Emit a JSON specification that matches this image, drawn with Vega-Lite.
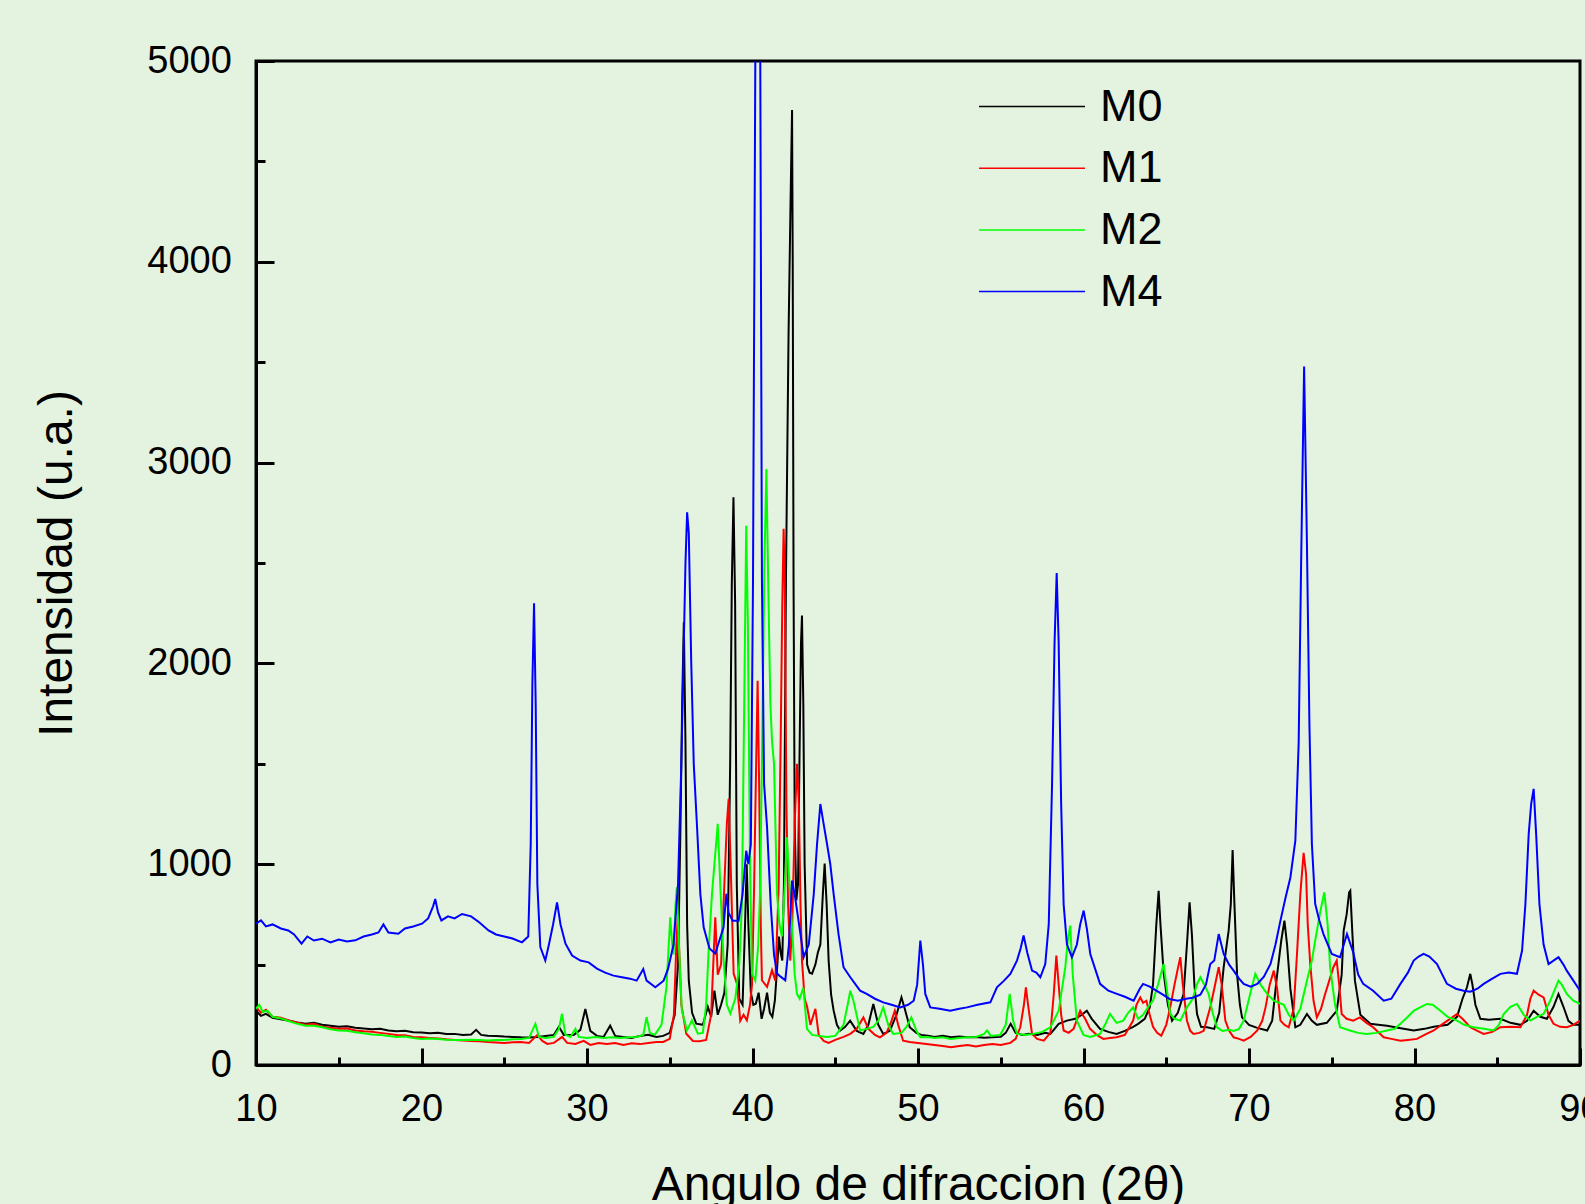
{
"$schema": "https://vega.github.io/schema/vega-lite/v6.json",
"width": 1324, "height": 1004,
"autosize": {"type": "none"},
"padding": {"left": 256, "top": 61, "right": 5, "bottom": 139},
"background": "#E4F2E0",
"config": {"view": {"stroke": "black", "strokeWidth": 3}, "font": "Liberation Sans"},
"data": {"values": [
{"s":"M0","x":10,"y":270},{"s":"M0","x":10.3,"y":245},{"s":"M0","x":10.6,"y":255},{"s":"M0","x":11,"y":235},{"s":"M0","x":11.5,"y":228},{"s":"M0","x":12,"y":220},{"s":"M0","x":12.5,"y":212},{"s":"M0","x":13,"y":205},{"s":"M0","x":13.5,"y":210},{"s":"M0","x":14,"y":200},{"s":"M0","x":14.5,"y":195},{"s":"M0","x":15,"y":190},{"s":"M0","x":15.5,"y":193},{"s":"M0","x":16,"y":186},{"s":"M0","x":16.5,"y":182},{"s":"M0","x":17,"y":178},{"s":"M0","x":17.5,"y":180},{"s":"M0","x":18,"y":172},{"s":"M0","x":18.5,"y":168},{"s":"M0","x":19,"y":170},{"s":"M0","x":19.5,"y":163},{"s":"M0","x":20,"y":162},{"s":"M0","x":20.5,"y":158},{"s":"M0","x":21,"y":160},{"s":"M0","x":21.5,"y":155},{"s":"M0","x":22,"y":155},{"s":"M0","x":22.5,"y":150},{"s":"M0","x":23,"y":152},{"s":"M0","x":23.3,"y":175},{"s":"M0","x":23.6,"y":150},{"s":"M0","x":24,"y":146},{"s":"M0","x":24.5,"y":145},{"s":"M0","x":25,"y":142},{"s":"M0","x":25.5,"y":140},{"s":"M0","x":26,"y":138},{"s":"M0","x":26.5,"y":137},{"s":"M0","x":27,"y":140},{"s":"M0","x":27.5,"y":145},{"s":"M0","x":28,"y":150},{"s":"M0","x":28.3,"y":190},{"s":"M0","x":28.6,"y":150},{"s":"M0","x":29.2,"y":150},{"s":"M0","x":29.6,"y":175},{"s":"M0","x":29.9,"y":279},{"s":"M0","x":30.2,"y":170},{"s":"M0","x":30.6,"y":145},{"s":"M0","x":31,"y":140},{"s":"M0","x":31.4,"y":196},{"s":"M0","x":31.7,"y":145},{"s":"M0","x":32.2,"y":140},{"s":"M0","x":32.7,"y":135},{"s":"M0","x":33.2,"y":145},{"s":"M0","x":33.7,"y":150},{"s":"M0","x":34.2,"y":140},{"s":"M0","x":34.6,"y":145},{"s":"M0","x":35,"y":160},{"s":"M0","x":35.3,"y":250},{"s":"M0","x":35.5,"y":500},{"s":"M0","x":35.65,"y":1200},{"s":"M0","x":35.75,"y":1800},{"s":"M0","x":35.85,"y":2205},{"s":"M0","x":35.95,"y":1600},{"s":"M0","x":36.05,"y":700},{"s":"M0","x":36.15,"y":420},{"s":"M0","x":36.35,"y":260},{"s":"M0","x":36.6,"y":206},{"s":"M0","x":37,"y":200},{"s":"M0","x":37.3,"y":290},{"s":"M0","x":37.5,"y":240},{"s":"M0","x":37.7,"y":370},{"s":"M0","x":37.9,"y":250},{"s":"M0","x":38.1,"y":300},{"s":"M0","x":38.3,"y":360},{"s":"M0","x":38.5,"y":600},{"s":"M0","x":38.65,"y":1500},{"s":"M0","x":38.75,"y":2400},{"s":"M0","x":38.85,"y":2827},{"s":"M0","x":38.95,"y":2300},{"s":"M0","x":39.05,"y":900},{"s":"M0","x":39.2,"y":330},{"s":"M0","x":39.4,"y":300},{"s":"M0","x":39.55,"y":700},{"s":"M0","x":39.65,"y":1000},{"s":"M0","x":39.75,"y":700},{"s":"M0","x":39.9,"y":360},{"s":"M0","x":40.05,"y":300},{"s":"M0","x":40.2,"y":305},{"s":"M0","x":40.37,"y":360},{"s":"M0","x":40.55,"y":230},{"s":"M0","x":40.7,"y":280},{"s":"M0","x":40.88,"y":360},{"s":"M0","x":41.05,"y":260},{"s":"M0","x":41.2,"y":240},{"s":"M0","x":41.35,"y":320},{"s":"M0","x":41.5,"y":500},{"s":"M0","x":41.6,"y":640},{"s":"M0","x":41.7,"y":560},{"s":"M0","x":41.8,"y":520},{"s":"M0","x":41.9,"y":900},{"s":"M0","x":42.02,"y":2412},{"s":"M0","x":42.18,"y":3650},{"s":"M0","x":42.3,"y":4300},{"s":"M0","x":42.39,"y":4756},{"s":"M0","x":42.43,"y":4000},{"s":"M0","x":42.48,"y":2412},{"s":"M0","x":42.55,"y":1200},{"s":"M0","x":42.65,"y":820},{"s":"M0","x":42.75,"y":900},{"s":"M0","x":42.85,"y":1600},{"s":"M0","x":42.93,"y":2100},{"s":"M0","x":42.99,"y":2238},{"s":"M0","x":43.07,"y":1800},{"s":"M0","x":43.15,"y":1000},{"s":"M0","x":43.3,"y":500},{"s":"M0","x":43.45,"y":460},{"s":"M0","x":43.6,"y":455},{"s":"M0","x":43.8,"y":500},{"s":"M0","x":43.95,"y":560},{"s":"M0","x":44.1,"y":600},{"s":"M0","x":44.25,"y":850},{"s":"M0","x":44.36,"y":1003},{"s":"M0","x":44.48,"y":800},{"s":"M0","x":44.6,"y":520},{"s":"M0","x":44.75,"y":350},{"s":"M0","x":44.9,"y":272},{"s":"M0","x":45.1,"y":200},{"s":"M0","x":45.3,"y":172},{"s":"M0","x":45.6,"y":190},{"s":"M0","x":45.9,"y":221},{"s":"M0","x":46.3,"y":170},{"s":"M0","x":46.7,"y":155},{"s":"M0","x":47,"y":200},{"s":"M0","x":47.3,"y":304},{"s":"M0","x":47.6,"y":200},{"s":"M0","x":47.9,"y":155},{"s":"M0","x":48.3,"y":170},{"s":"M0","x":48.7,"y":250},{"s":"M0","x":49,"y":337},{"s":"M0","x":49.2,"y":280},{"s":"M0","x":49.5,"y":188},{"s":"M0","x":49.9,"y":160},{"s":"M0","x":50.2,"y":150},{"s":"M0","x":50.6,"y":146},{"s":"M0","x":51,"y":140},{"s":"M0","x":51.5,"y":145},{"s":"M0","x":52,"y":138},{"s":"M0","x":52.5,"y":142},{"s":"M0","x":53,"y":138},{"s":"M0","x":53.5,"y":140},{"s":"M0","x":54,"y":136},{"s":"M0","x":54.5,"y":138},{"s":"M0","x":55,"y":140},{"s":"M0","x":55.3,"y":160},{"s":"M0","x":55.6,"y":205},{"s":"M0","x":55.9,"y":160},{"s":"M0","x":56.3,"y":150},{"s":"M0","x":56.7,"y":155},{"s":"M0","x":57.2,"y":150},{"s":"M0","x":57.7,"y":160},{"s":"M0","x":58,"y":155},{"s":"M0","x":58.5,"y":205},{"s":"M0","x":59,"y":221},{"s":"M0","x":59.5,"y":230},{"s":"M0","x":59.9,"y":250},{"s":"M0","x":60.2,"y":270},{"s":"M0","x":60.5,"y":230},{"s":"M0","x":61,"y":180},{"s":"M0","x":61.5,"y":165},{"s":"M0","x":62,"y":155},{"s":"M0","x":62.5,"y":170},{"s":"M0","x":63,"y":190},{"s":"M0","x":63.3,"y":205},{"s":"M0","x":63.7,"y":230},{"s":"M0","x":64,"y":287},{"s":"M0","x":64.2,"y":400},{"s":"M0","x":64.4,"y":700},{"s":"M0","x":64.54,"y":868},{"s":"M0","x":64.65,"y":700},{"s":"M0","x":64.84,"y":460},{"s":"M0","x":65.1,"y":300},{"s":"M0","x":65.35,"y":221},{"s":"M0","x":65.7,"y":260},{"s":"M0","x":66.05,"y":354},{"s":"M0","x":66.25,"y":600},{"s":"M0","x":66.41,"y":810},{"s":"M0","x":66.55,"y":650},{"s":"M0","x":66.7,"y":400},{"s":"M0","x":66.86,"y":254},{"s":"M0","x":67.1,"y":190},{"s":"M0","x":67.46,"y":188},{"s":"M0","x":67.9,"y":180},{"s":"M0","x":68.2,"y":260},{"s":"M0","x":68.47,"y":487},{"s":"M0","x":68.77,"y":669},{"s":"M0","x":68.9,"y":800},{"s":"M0","x":69.01,"y":1070},{"s":"M0","x":69.12,"y":800},{"s":"M0","x":69.28,"y":450},{"s":"M0","x":69.45,"y":300},{"s":"M0","x":69.58,"y":237},{"s":"M0","x":70,"y":200},{"s":"M0","x":70.5,"y":185},{"s":"M0","x":71.1,"y":172},{"s":"M0","x":71.4,"y":220},{"s":"M0","x":71.7,"y":450},{"s":"M0","x":71.95,"y":620},{"s":"M0","x":72.14,"y":719},{"s":"M0","x":72.3,"y":600},{"s":"M0","x":72.5,"y":380},{"s":"M0","x":72.8,"y":188},{"s":"M0","x":73.1,"y":200},{"s":"M0","x":73.5,"y":254},{"s":"M0","x":73.8,"y":220},{"s":"M0","x":74.1,"y":200},{"s":"M0","x":74.7,"y":210},{"s":"M0","x":75.3,"y":270},{"s":"M0","x":75.6,"y":450},{"s":"M0","x":75.72,"y":669},{"s":"M0","x":75.9,"y":750},{"s":"M0","x":76.05,"y":860},{"s":"M0","x":76.12,"y":868},{"s":"M0","x":76.25,"y":650},{"s":"M0","x":76.4,"y":420},{"s":"M0","x":76.73,"y":250},{"s":"M0","x":77.33,"y":205},{"s":"M0","x":77.8,"y":200},{"s":"M0","x":78.34,"y":195},{"s":"M0","x":79,"y":185},{"s":"M0","x":79.95,"y":172},{"s":"M0","x":80.6,"y":180},{"s":"M0","x":81.16,"y":190},{"s":"M0","x":82,"y":200},{"s":"M0","x":82.57,"y":240},{"s":"M0","x":82.9,"y":330},{"s":"M0","x":83.17,"y":387},{"s":"M0","x":83.37,"y":454},{"s":"M0","x":83.5,"y":400},{"s":"M0","x":83.68,"y":300},{"s":"M0","x":83.98,"y":230},{"s":"M0","x":84.5,"y":225},{"s":"M0","x":85.19,"y":230},{"s":"M0","x":85.8,"y":210},{"s":"M0","x":86.4,"y":200},{"s":"M0","x":86.8,"y":220},{"s":"M0","x":87.2,"y":270},{"s":"M0","x":87.6,"y":240},{"s":"M0","x":88,"y":230},{"s":"M0","x":88.4,"y":290},{"s":"M0","x":88.7,"y":354},{"s":"M0","x":89,"y":290},{"s":"M0","x":89.3,"y":220},{"s":"M0","x":89.6,"y":200},{"s":"M0","x":90,"y":200},
{"s":"M1","x":10,"y":290},{"s":"M1","x":10.3,"y":260},{"s":"M1","x":10.6,"y":275},{"s":"M1","x":11,"y":240},{"s":"M1","x":11.5,"y":235},{"s":"M1","x":12,"y":222},{"s":"M1","x":12.5,"y":210},{"s":"M1","x":13,"y":200},{"s":"M1","x":13.5,"y":205},{"s":"M1","x":14,"y":190},{"s":"M1","x":14.5,"y":185},{"s":"M1","x":15,"y":180},{"s":"M1","x":15.5,"y":182},{"s":"M1","x":16,"y":172},{"s":"M1","x":16.5,"y":168},{"s":"M1","x":17,"y":165},{"s":"M1","x":17.5,"y":160},{"s":"M1","x":18,"y":155},{"s":"M1","x":18.5,"y":150},{"s":"M1","x":19,"y":148},{"s":"M1","x":19.5,"y":140},{"s":"M1","x":20,"y":138},{"s":"M1","x":20.5,"y":135},{"s":"M1","x":21,"y":132},{"s":"M1","x":21.5,"y":128},{"s":"M1","x":22,"y":125},{"s":"M1","x":22.5,"y":122},{"s":"M1","x":23,"y":120},{"s":"M1","x":23.5,"y":118},{"s":"M1","x":24,"y":114},{"s":"M1","x":24.5,"y":112},{"s":"M1","x":25,"y":110},{"s":"M1","x":25.5,"y":113},{"s":"M1","x":26,"y":114},{"s":"M1","x":26.5,"y":110},{"s":"M1","x":27,"y":150},{"s":"M1","x":27.3,"y":120},{"s":"M1","x":27.6,"y":105},{"s":"M1","x":28,"y":110},{"s":"M1","x":28.5,"y":140},{"s":"M1","x":28.8,"y":110},{"s":"M1","x":29.3,"y":105},{"s":"M1","x":29.8,"y":120},{"s":"M1","x":30.2,"y":100},{"s":"M1","x":30.7,"y":110},{"s":"M1","x":31.2,"y":105},{"s":"M1","x":31.7,"y":110},{"s":"M1","x":32.2,"y":100},{"s":"M1","x":32.7,"y":108},{"s":"M1","x":33.2,"y":104},{"s":"M1","x":33.7,"y":110},{"s":"M1","x":34.2,"y":114},{"s":"M1","x":34.6,"y":115},{"s":"M1","x":35,"y":130},{"s":"M1","x":35.25,"y":250},{"s":"M1","x":35.4,"y":600},{"s":"M1","x":35.48,"y":730},{"s":"M1","x":35.56,"y":600},{"s":"M1","x":35.7,"y":300},{"s":"M1","x":36,"y":156},{"s":"M1","x":36.4,"y":120},{"s":"M1","x":36.8,"y":118},{"s":"M1","x":37.2,"y":125},{"s":"M1","x":37.5,"y":250},{"s":"M1","x":37.75,"y":735},{"s":"M1","x":37.9,"y":450},{"s":"M1","x":38.1,"y":500},{"s":"M1","x":38.3,"y":900},{"s":"M1","x":38.45,"y":1200},{"s":"M1","x":38.56,"y":1326},{"s":"M1","x":38.68,"y":1000},{"s":"M1","x":38.86,"y":455},{"s":"M1","x":39.06,"y":405},{"s":"M1","x":39.26,"y":220},{"s":"M1","x":39.46,"y":250},{"s":"M1","x":39.66,"y":223},{"s":"M1","x":39.85,"y":300},{"s":"M1","x":39.97,"y":400},{"s":"M1","x":40.1,"y":900},{"s":"M1","x":40.22,"y":1500},{"s":"M1","x":40.31,"y":1914},{"s":"M1","x":40.4,"y":1400},{"s":"M1","x":40.5,"y":700},{"s":"M1","x":40.57,"y":422},{"s":"M1","x":40.88,"y":389},{"s":"M1","x":41.18,"y":472},{"s":"M1","x":41.38,"y":420},{"s":"M1","x":41.58,"y":885},{"s":"M1","x":41.7,"y":1600},{"s":"M1","x":41.8,"y":2300},{"s":"M1","x":41.88,"y":2670},{"s":"M1","x":41.95,"y":2400},{"s":"M1","x":42.05,"y":1300},{"s":"M1","x":42.15,"y":800},{"s":"M1","x":42.28,"y":520},{"s":"M1","x":42.4,"y":700},{"s":"M1","x":42.55,"y":1200},{"s":"M1","x":42.69,"y":1500},{"s":"M1","x":42.8,"y":1300},{"s":"M1","x":42.9,"y":800},{"s":"M1","x":42.99,"y":520},{"s":"M1","x":43.15,"y":330},{"s":"M1","x":43.3,"y":290},{"s":"M1","x":43.5,"y":200},{"s":"M1","x":43.8,"y":280},{"s":"M1","x":44,"y":150},{"s":"M1","x":44.3,"y":120},{"s":"M1","x":44.6,"y":110},{"s":"M1","x":45,"y":125},{"s":"M1","x":45.5,"y":140},{"s":"M1","x":45.91,"y":155},{"s":"M1","x":46.3,"y":180},{"s":"M1","x":46.7,"y":237},{"s":"M1","x":47,"y":180},{"s":"M1","x":47.4,"y":150},{"s":"M1","x":47.7,"y":138},{"s":"M1","x":48.1,"y":160},{"s":"M1","x":48.4,"y":220},{"s":"M1","x":48.6,"y":270},{"s":"M1","x":48.8,"y":200},{"s":"M1","x":49.1,"y":121},{"s":"M1","x":49.5,"y":115},{"s":"M1","x":50,"y":110},{"s":"M1","x":50.5,"y":105},{"s":"M1","x":51,"y":100},{"s":"M1","x":51.5,"y":95},{"s":"M1","x":52,"y":88},{"s":"M1","x":52.5,"y":95},{"s":"M1","x":53,"y":100},{"s":"M1","x":53.5,"y":92},{"s":"M1","x":54,"y":100},{"s":"M1","x":54.5,"y":105},{"s":"M1","x":55,"y":100},{"s":"M1","x":55.58,"y":110},{"s":"M1","x":55.9,"y":130},{"s":"M1","x":56.18,"y":188},{"s":"M1","x":56.4,"y":300},{"s":"M1","x":56.52,"y":387},{"s":"M1","x":56.65,"y":300},{"s":"M1","x":56.89,"y":155},{"s":"M1","x":57.2,"y":130},{"s":"M1","x":57.6,"y":121},{"s":"M1","x":58,"y":160},{"s":"M1","x":58.2,"y":350},{"s":"M1","x":58.36,"y":545},{"s":"M1","x":58.5,"y":400},{"s":"M1","x":58.65,"y":250},{"s":"M1","x":58.8,"y":172},{"s":"M1","x":59.1,"y":160},{"s":"M1","x":59.4,"y":180},{"s":"M1","x":59.8,"y":270},{"s":"M1","x":60.1,"y":230},{"s":"M1","x":60.4,"y":180},{"s":"M1","x":60.8,"y":150},{"s":"M1","x":61.2,"y":130},{"s":"M1","x":61.6,"y":135},{"s":"M1","x":62,"y":138},{"s":"M1","x":62.5,"y":150},{"s":"M1","x":63,"y":221},{"s":"M1","x":63.2,"y":300},{"s":"M1","x":63.43,"y":337},{"s":"M1","x":63.6,"y":310},{"s":"M1","x":63.8,"y":320},{"s":"M1","x":64,"y":250},{"s":"M1","x":64.2,"y":190},{"s":"M1","x":64.45,"y":160},{"s":"M1","x":64.7,"y":146},{"s":"M1","x":65,"y":200},{"s":"M1","x":65.24,"y":287},{"s":"M1","x":65.5,"y":400},{"s":"M1","x":65.7,"y":480},{"s":"M1","x":65.85,"y":537},{"s":"M1","x":66,"y":400},{"s":"M1","x":66.25,"y":221},{"s":"M1","x":66.45,"y":170},{"s":"M1","x":66.65,"y":155},{"s":"M1","x":67,"y":160},{"s":"M1","x":67.26,"y":170},{"s":"M1","x":67.66,"y":287},{"s":"M1","x":67.9,"y":380},{"s":"M1","x":68.17,"y":487},{"s":"M1","x":68.35,"y":400},{"s":"M1","x":68.57,"y":221},{"s":"M1","x":68.8,"y":170},{"s":"M1","x":69.07,"y":138},{"s":"M1","x":69.4,"y":130},{"s":"M1","x":69.68,"y":121},{"s":"M1","x":70.1,"y":140},{"s":"M1","x":70.5,"y":172},{"s":"M1","x":70.8,"y":220},{"s":"M1","x":71,"y":287},{"s":"M1","x":71.25,"y":400},{"s":"M1","x":71.5,"y":470},{"s":"M1","x":71.7,"y":380},{"s":"M1","x":71.9,"y":221},{"s":"M1","x":72.15,"y":200},{"s":"M1","x":72.4,"y":188},{"s":"M1","x":72.7,"y":280},{"s":"M1","x":72.9,"y":553},{"s":"M1","x":73.1,"y":850},{"s":"M1","x":73.3,"y":1057},{"s":"M1","x":73.45,"y":950},{"s":"M1","x":73.55,"y":700},{"s":"M1","x":73.7,"y":503},{"s":"M1","x":73.9,"y":320},{"s":"M1","x":74.1,"y":237},{"s":"M1","x":74.35,"y":280},{"s":"M1","x":74.6,"y":354},{"s":"M1","x":74.85,"y":420},{"s":"M1","x":75.1,"y":487},{"s":"M1","x":75.3,"y":520},{"s":"M1","x":75.45,"y":400},{"s":"M1","x":75.6,"y":254},{"s":"M1","x":75.9,"y":230},{"s":"M1","x":76.3,"y":221},{"s":"M1","x":76.7,"y":237},{"s":"M1","x":77.1,"y":210},{"s":"M1","x":77.5,"y":188},{"s":"M1","x":78.14,"y":138},{"s":"M1","x":78.6,"y":130},{"s":"M1","x":79.15,"y":121},{"s":"M1","x":79.6,"y":125},{"s":"M1","x":80.15,"y":130},{"s":"M1","x":80.6,"y":150},{"s":"M1","x":81.16,"y":172},{"s":"M1","x":81.8,"y":210},{"s":"M1","x":82.57,"y":254},{"s":"M1","x":82.9,"y":230},{"s":"M1","x":83.37,"y":188},{"s":"M1","x":83.8,"y":170},{"s":"M1","x":84.18,"y":155},{"s":"M1","x":84.7,"y":165},{"s":"M1","x":85.19,"y":188},{"s":"M1","x":85.8,"y":190},{"s":"M1","x":86.4,"y":188},{"s":"M1","x":86.8,"y":250},{"s":"M1","x":87,"y":330},{"s":"M1","x":87.2,"y":370},{"s":"M1","x":87.5,"y":350},{"s":"M1","x":87.8,"y":337},{"s":"M1","x":88.1,"y":250},{"s":"M1","x":88.4,"y":205},{"s":"M1","x":88.8,"y":190},{"s":"M1","x":89.2,"y":188},{"s":"M1","x":89.6,"y":200},{"s":"M1","x":90,"y":221},
{"s":"M2","x":10,"y":280},{"s":"M2","x":10.2,"y":300},{"s":"M2","x":10.4,"y":265},{"s":"M2","x":10.7,"y":270},{"s":"M2","x":11,"y":240},{"s":"M2","x":11.5,"y":232},{"s":"M2","x":12,"y":218},{"s":"M2","x":12.5,"y":205},{"s":"M2","x":13,"y":195},{"s":"M2","x":13.5,"y":195},{"s":"M2","x":14,"y":188},{"s":"M2","x":14.5,"y":178},{"s":"M2","x":15,"y":172},{"s":"M2","x":15.5,"y":170},{"s":"M2","x":16,"y":163},{"s":"M2","x":16.5,"y":158},{"s":"M2","x":17,"y":152},{"s":"M2","x":17.5,"y":150},{"s":"M2","x":18,"y":145},{"s":"M2","x":18.5,"y":140},{"s":"M2","x":19,"y":142},{"s":"M2","x":19.5,"y":135},{"s":"M2","x":20,"y":130},{"s":"M2","x":20.5,"y":132},{"s":"M2","x":21,"y":130},{"s":"M2","x":21.5,"y":126},{"s":"M2","x":22,"y":125},{"s":"M2","x":22.5,"y":124},{"s":"M2","x":23,"y":126},{"s":"M2","x":23.5,"y":124},{"s":"M2","x":24,"y":122},{"s":"M2","x":24.5,"y":125},{"s":"M2","x":25,"y":124},{"s":"M2","x":25.5,"y":128},{"s":"M2","x":26,"y":130},{"s":"M2","x":26.5,"y":135},{"s":"M2","x":26.88,"y":205},{"s":"M2","x":27.1,"y":140},{"s":"M2","x":27.5,"y":135},{"s":"M2","x":28,"y":140},{"s":"M2","x":28.3,"y":180},{"s":"M2","x":28.49,"y":255},{"s":"M2","x":28.7,"y":150},{"s":"M2","x":29,"y":140},{"s":"M2","x":29.3,"y":180},{"s":"M2","x":29.5,"y":140},{"s":"M2","x":30,"y":135},{"s":"M2","x":30.5,"y":140},{"s":"M2","x":31,"y":135},{"s":"M2","x":31.5,"y":138},{"s":"M2","x":32,"y":135},{"s":"M2","x":32.5,"y":138},{"s":"M2","x":33,"y":140},{"s":"M2","x":33.4,"y":150},{"s":"M2","x":33.6,"y":238},{"s":"M2","x":33.8,"y":160},{"s":"M2","x":34.1,"y":150},{"s":"M2","x":34.5,"y":200},{"s":"M2","x":34.8,"y":387},{"s":"M2","x":35.03,"y":735},{"s":"M2","x":35.15,"y":600},{"s":"M2","x":35.23,"y":550},{"s":"M2","x":35.35,"y":800},{"s":"M2","x":35.43,"y":885},{"s":"M2","x":35.55,"y":600},{"s":"M2","x":35.73,"y":272},{"s":"M2","x":36.04,"y":172},{"s":"M2","x":36.34,"y":222},{"s":"M2","x":36.7,"y":156},{"s":"M2","x":37,"y":160},{"s":"M2","x":37.2,"y":300},{"s":"M2","x":37.35,"y":570},{"s":"M2","x":37.55,"y":850},{"s":"M2","x":37.7,"y":1000},{"s":"M2","x":37.9,"y":1201},{"s":"M2","x":38.05,"y":900},{"s":"M2","x":38.25,"y":530},{"s":"M2","x":38.45,"y":300},{"s":"M2","x":38.66,"y":256},{"s":"M2","x":38.96,"y":330},{"s":"M2","x":39.2,"y":500},{"s":"M2","x":39.36,"y":800},{"s":"M2","x":39.5,"y":1800},{"s":"M2","x":39.62,"y":2686},{"s":"M2","x":39.72,"y":2200},{"s":"M2","x":39.85,"y":1000},{"s":"M2","x":39.97,"y":455},{"s":"M2","x":40.17,"y":420},{"s":"M2","x":40.35,"y":600},{"s":"M2","x":40.47,"y":900},{"s":"M2","x":40.6,"y":1700},{"s":"M2","x":40.72,"y":2500},{"s":"M2","x":40.84,"y":2968},{"s":"M2","x":40.95,"y":2400},{"s":"M2","x":41.08,"y":1800},{"s":"M2","x":41.18,"y":1614},{"s":"M2","x":41.3,"y":1500},{"s":"M2","x":41.48,"y":853},{"s":"M2","x":41.63,"y":700},{"s":"M2","x":41.78,"y":640},{"s":"M2","x":41.95,"y":900},{"s":"M2","x":42.08,"y":1134},{"s":"M2","x":42.2,"y":950},{"s":"M2","x":42.39,"y":686},{"s":"M2","x":42.55,"y":450},{"s":"M2","x":42.69,"y":353},{"s":"M2","x":42.85,"y":330},{"s":"M2","x":43.07,"y":385},{"s":"M2","x":43.29,"y":180},{"s":"M2","x":43.6,"y":150},{"s":"M2","x":44,"y":145},{"s":"M2","x":44.5,"y":140},{"s":"M2","x":45,"y":145},{"s":"M2","x":45.5,"y":200},{"s":"M2","x":45.75,"y":300},{"s":"M2","x":45.91,"y":370},{"s":"M2","x":46.1,"y":320},{"s":"M2","x":46.5,"y":172},{"s":"M2","x":46.9,"y":180},{"s":"M2","x":47.3,"y":190},{"s":"M2","x":47.6,"y":220},{"s":"M2","x":47.9,"y":287},{"s":"M2","x":48.2,"y":200},{"s":"M2","x":48.5,"y":155},{"s":"M2","x":49,"y":160},{"s":"M2","x":49.3,"y":190},{"s":"M2","x":49.6,"y":237},{"s":"M2","x":49.9,"y":170},{"s":"M2","x":50.14,"y":138},{"s":"M2","x":50.6,"y":140},{"s":"M2","x":51,"y":135},{"s":"M2","x":51.5,"y":138},{"s":"M2","x":51.95,"y":130},{"s":"M2","x":52.5,"y":135},{"s":"M2","x":53,"y":138},{"s":"M2","x":53.5,"y":140},{"s":"M2","x":54,"y":155},{"s":"M2","x":54.17,"y":172},{"s":"M2","x":54.4,"y":145},{"s":"M2","x":54.97,"y":150},{"s":"M2","x":55.3,"y":200},{"s":"M2","x":55.54,"y":354},{"s":"M2","x":55.75,"y":220},{"s":"M2","x":55.98,"y":155},{"s":"M2","x":56.5,"y":150},{"s":"M2","x":56.99,"y":155},{"s":"M2","x":57.5,"y":165},{"s":"M2","x":58,"y":188},{"s":"M2","x":58.5,"y":270},{"s":"M2","x":58.9,"y":487},{"s":"M2","x":59.05,"y":620},{"s":"M2","x":59.2,"y":694},{"s":"M2","x":59.35,"y":450},{"s":"M2","x":59.6,"y":221},{"s":"M2","x":60,"y":150},{"s":"M2","x":60.4,"y":140},{"s":"M2","x":61,"y":155},{"s":"M2","x":61.3,"y":200},{"s":"M2","x":61.6,"y":254},{"s":"M2","x":62,"y":210},{"s":"M2","x":62.4,"y":221},{"s":"M2","x":62.7,"y":260},{"s":"M2","x":63,"y":287},{"s":"M2","x":63.3,"y":230},{"s":"M2","x":63.6,"y":250},{"s":"M2","x":64,"y":300},{"s":"M2","x":64.2,"y":320},{"s":"M2","x":64.5,"y":400},{"s":"M2","x":64.84,"y":503},{"s":"M2","x":65,"y":400},{"s":"M2","x":65.24,"y":254},{"s":"M2","x":65.5,"y":230},{"s":"M2","x":65.85,"y":221},{"s":"M2","x":66.25,"y":287},{"s":"M2","x":66.6,"y":330},{"s":"M2","x":66.85,"y":400},{"s":"M2","x":67.06,"y":437},{"s":"M2","x":67.3,"y":400},{"s":"M2","x":67.56,"y":354},{"s":"M2","x":67.8,"y":260},{"s":"M2","x":68.06,"y":188},{"s":"M2","x":68.4,"y":170},{"s":"M2","x":68.8,"y":175},{"s":"M2","x":69.07,"y":170},{"s":"M2","x":69.4,"y":180},{"s":"M2","x":69.68,"y":221},{"s":"M2","x":70,"y":330},{"s":"M2","x":70.38,"y":454},{"s":"M2","x":70.7,"y":400},{"s":"M2","x":71.1,"y":354},{"s":"M2","x":71.5,"y":320},{"s":"M2","x":72.1,"y":300},{"s":"M2","x":72.4,"y":250},{"s":"M2","x":72.7,"y":221},{"s":"M2","x":73.1,"y":280},{"s":"M2","x":73.5,"y":420},{"s":"M2","x":73.8,"y":520},{"s":"M2","x":74,"y":620},{"s":"M2","x":74.3,"y":760},{"s":"M2","x":74.55,"y":860},{"s":"M2","x":74.75,"y":700},{"s":"M2","x":74.9,"y":487},{"s":"M2","x":75.2,"y":300},{"s":"M2","x":75.5,"y":188},{"s":"M2","x":76.1,"y":172},{"s":"M2","x":76.6,"y":160},{"s":"M2","x":77.1,"y":155},{"s":"M2","x":77.7,"y":160},{"s":"M2","x":78.34,"y":172},{"s":"M2","x":78.8,"y":180},{"s":"M2","x":79.15,"y":205},{"s":"M2","x":79.6,"y":240},{"s":"M2","x":79.95,"y":270},{"s":"M2","x":80.4,"y":290},{"s":"M2","x":80.76,"y":304},{"s":"M2","x":81.1,"y":300},{"s":"M2","x":81.56,"y":270},{"s":"M2","x":82,"y":240},{"s":"M2","x":82.57,"y":221},{"s":"M2","x":83,"y":200},{"s":"M2","x":83.57,"y":188},{"s":"M2","x":84.2,"y":180},{"s":"M2","x":84.78,"y":172},{"s":"M2","x":85.1,"y":200},{"s":"M2","x":85.39,"y":254},{"s":"M2","x":85.8,"y":290},{"s":"M2","x":86.19,"y":304},{"s":"M2","x":86.6,"y":250},{"s":"M2","x":87,"y":221},{"s":"M2","x":87.4,"y":240},{"s":"M2","x":87.8,"y":254},{"s":"M2","x":88.2,"y":320},{"s":"M2","x":88.5,"y":380},{"s":"M2","x":88.7,"y":420},{"s":"M2","x":88.9,"y":400},{"s":"M2","x":89.2,"y":354},{"s":"M2","x":89.6,"y":320},{"s":"M2","x":90,"y":304},
{"s":"M4","x":10,"y":704},{"s":"M4","x":10.3,"y":720},{"s":"M4","x":10.6,"y":690},{"s":"M4","x":11,"y":700},{"s":"M4","x":11.5,"y":680},{"s":"M4","x":11.95,"y":670},{"s":"M4","x":12.3,"y":650},{"s":"M4","x":12.75,"y":604},{"s":"M4","x":13.1,"y":640},{"s":"M4","x":13.5,"y":620},{"s":"M4","x":13.99,"y":629},{"s":"M4","x":14.5,"y":610},{"s":"M4","x":15,"y":625},{"s":"M4","x":15.5,"y":615},{"s":"M4","x":16,"y":621},{"s":"M4","x":16.5,"y":640},{"s":"M4","x":17,"y":650},{"s":"M4","x":17.4,"y":660},{"s":"M4","x":17.7,"y":700},{"s":"M4","x":18,"y":660},{"s":"M4","x":18.6,"y":654},{"s":"M4","x":19,"y":680},{"s":"M4","x":19.5,"y":690},{"s":"M4","x":20.03,"y":704},{"s":"M4","x":20.4,"y":730},{"s":"M4","x":20.7,"y":790},{"s":"M4","x":20.83,"y":827},{"s":"M4","x":21,"y":760},{"s":"M4","x":21.2,"y":720},{"s":"M4","x":21.6,"y":740},{"s":"M4","x":22,"y":730},{"s":"M4","x":22.45,"y":752},{"s":"M4","x":23,"y":740},{"s":"M4","x":23.5,"y":710},{"s":"M4","x":24.05,"y":670},{"s":"M4","x":24.5,"y":650},{"s":"M4","x":25,"y":640},{"s":"M4","x":25.5,"y":630},{"s":"M4","x":26.07,"y":611},{"s":"M4","x":26.45,"y":640},{"s":"M4","x":26.6,"y":1100},{"s":"M4","x":26.7,"y":1900},{"s":"M4","x":26.8,"y":2300},{"s":"M4","x":26.9,"y":1800},{"s":"M4","x":27,"y":900},{"s":"M4","x":27.18,"y":587},{"s":"M4","x":27.48,"y":520},{"s":"M4","x":27.7,"y":600},{"s":"M4","x":27.95,"y":700},{"s":"M4","x":28.19,"y":810},{"s":"M4","x":28.4,"y":700},{"s":"M4","x":28.7,"y":604},{"s":"M4","x":29.1,"y":545},{"s":"M4","x":29.6,"y":520},{"s":"M4","x":30.1,"y":511},{"s":"M4","x":30.6,"y":480},{"s":"M4","x":31.1,"y":460},{"s":"M4","x":31.6,"y":445},{"s":"M4","x":32.11,"y":437},{"s":"M4","x":32.6,"y":430},{"s":"M4","x":33,"y":420},{"s":"M4","x":33.4,"y":478},{"s":"M4","x":33.6,"y":420},{"s":"M4","x":34.13,"y":387},{"s":"M4","x":34.63,"y":420},{"s":"M4","x":34.9,"y":480},{"s":"M4","x":35.23,"y":600},{"s":"M4","x":35.5,"y":900},{"s":"M4","x":35.7,"y":1500},{"s":"M4","x":35.85,"y":2100},{"s":"M4","x":35.95,"y":2500},{"s":"M4","x":36.05,"y":2752},{"s":"M4","x":36.15,"y":2650},{"s":"M4","x":36.3,"y":2000},{"s":"M4","x":36.45,"y":1500},{"s":"M4","x":36.65,"y":1184},{"s":"M4","x":36.85,"y":850},{"s":"M4","x":37.05,"y":686},{"s":"M4","x":37.4,"y":580},{"s":"M4","x":37.75,"y":555},{"s":"M4","x":38,"y":620},{"s":"M4","x":38.25,"y":686},{"s":"M4","x":38.42,"y":853},{"s":"M4","x":38.55,"y":760},{"s":"M4","x":38.8,"y":719},{"s":"M4","x":39.16,"y":719},{"s":"M4","x":39.4,"y":850},{"s":"M4","x":39.62,"y":1067},{"s":"M4","x":39.75,"y":1000},{"s":"M4","x":39.9,"y":1100},{"s":"M4","x":40.03,"y":2412},{"s":"M4","x":40.17,"y":5000},{"s":"M4","x":40.32,"y":7500},{"s":"M4","x":40.47,"y":5000},{"s":"M4","x":40.57,"y":2412},{"s":"M4","x":40.7,"y":1400},{"s":"M4","x":40.88,"y":1184},{"s":"M4","x":41.1,"y":800},{"s":"M4","x":41.3,"y":550},{"s":"M4","x":41.48,"y":455},{"s":"M4","x":41.7,"y":440},{"s":"M4","x":41.98,"y":422},{"s":"M4","x":42.2,"y":600},{"s":"M4","x":42.39,"y":918},{"s":"M4","x":42.55,"y":850},{"s":"M4","x":42.69,"y":770},{"s":"M4","x":42.9,"y":650},{"s":"M4","x":43.09,"y":537},{"s":"M4","x":43.4,"y":600},{"s":"M4","x":43.7,"y":850},{"s":"M4","x":43.9,"y":1100},{"s":"M4","x":44.1,"y":1300},{"s":"M4","x":44.3,"y":1200},{"s":"M4","x":44.5,"y":1102},{"s":"M4","x":44.7,"y":1000},{"s":"M4","x":44.9,"y":853},{"s":"M4","x":45.2,"y":650},{"s":"M4","x":45.5,"y":487},{"s":"M4","x":45.91,"y":437},{"s":"M4","x":46.5,"y":370},{"s":"M4","x":46.9,"y":354},{"s":"M4","x":47.4,"y":330},{"s":"M4","x":47.9,"y":312},{"s":"M4","x":48.4,"y":300},{"s":"M4","x":48.93,"y":287},{"s":"M4","x":49.4,"y":300},{"s":"M4","x":49.74,"y":320},{"s":"M4","x":49.95,"y":400},{"s":"M4","x":50.14,"y":620},{"s":"M4","x":50.3,"y":500},{"s":"M4","x":50.44,"y":354},{"s":"M4","x":50.74,"y":287},{"s":"M4","x":51.3,"y":280},{"s":"M4","x":51.95,"y":270},{"s":"M4","x":52.5,"y":280},{"s":"M4","x":52.96,"y":287},{"s":"M4","x":53.6,"y":300},{"s":"M4","x":54.37,"y":312},{"s":"M4","x":54.77,"y":387},{"s":"M4","x":55.2,"y":420},{"s":"M4","x":55.58,"y":454},{"s":"M4","x":55.98,"y":520},{"s":"M4","x":56.2,"y":580},{"s":"M4","x":56.38,"y":645},{"s":"M4","x":56.6,"y":560},{"s":"M4","x":56.89,"y":470},{"s":"M4","x":57.15,"y":460},{"s":"M4","x":57.39,"y":437},{"s":"M4","x":57.69,"y":503},{"s":"M4","x":57.9,"y":700},{"s":"M4","x":58.1,"y":1400},{"s":"M4","x":58.25,"y":2100},{"s":"M4","x":58.38,"y":2450},{"s":"M4","x":58.5,"y":2100},{"s":"M4","x":58.65,"y":1300},{"s":"M4","x":58.8,"y":800},{"s":"M4","x":59,"y":600},{"s":"M4","x":59.3,"y":537},{"s":"M4","x":59.6,"y":600},{"s":"M4","x":59.8,"y":700},{"s":"M4","x":60.01,"y":769},{"s":"M4","x":60.2,"y":680},{"s":"M4","x":60.41,"y":553},{"s":"M4","x":61,"y":404},{"s":"M4","x":61.5,"y":370},{"s":"M4","x":62.02,"y":354},{"s":"M4","x":62.5,"y":340},{"s":"M4","x":63.03,"y":320},{"s":"M4","x":63.4,"y":380},{"s":"M4","x":63.6,"y":404},{"s":"M4","x":64,"y":390},{"s":"M4","x":64.4,"y":370},{"s":"M4","x":64.8,"y":350},{"s":"M4","x":65.2,"y":329},{"s":"M4","x":65.7,"y":320},{"s":"M4","x":66.2,"y":330},{"s":"M4","x":66.6,"y":335},{"s":"M4","x":67.06,"y":350},{"s":"M4","x":67.4,"y":400},{"s":"M4","x":67.66,"y":503},{"s":"M4","x":67.9,"y":520},{"s":"M4","x":68.17,"y":652},{"s":"M4","x":68.47,"y":553},{"s":"M4","x":68.8,"y":500},{"s":"M4","x":69.07,"y":470},{"s":"M4","x":69.4,"y":430},{"s":"M4","x":69.68,"y":404},{"s":"M4","x":70.1,"y":390},{"s":"M4","x":70.5,"y":404},{"s":"M4","x":70.9,"y":440},{"s":"M4","x":71.3,"y":503},{"s":"M4","x":71.6,"y":600},{"s":"M4","x":71.9,"y":719},{"s":"M4","x":72.2,"y":830},{"s":"M4","x":72.5,"y":934},{"s":"M4","x":72.8,"y":1117},{"s":"M4","x":73,"y":1600},{"s":"M4","x":73.15,"y":2500},{"s":"M4","x":73.33,"y":3479},{"s":"M4","x":73.5,"y":2600},{"s":"M4","x":73.65,"y":1700},{"s":"M4","x":73.8,"y":1100},{"s":"M4","x":74,"y":802},{"s":"M4","x":74.25,"y":720},{"s":"M4","x":74.5,"y":652},{"s":"M4","x":75,"y":553},{"s":"M4","x":75.5,"y":537},{"s":"M4","x":75.92,"y":652},{"s":"M4","x":76.3,"y":560},{"s":"M4","x":76.6,"y":450},{"s":"M4","x":76.9,"y":404},{"s":"M4","x":77.5,"y":370},{"s":"M4","x":78.14,"y":320},{"s":"M4","x":78.6,"y":330},{"s":"M4","x":79.15,"y":404},{"s":"M4","x":79.6,"y":460},{"s":"M4","x":79.95,"y":520},{"s":"M4","x":80.25,"y":540},{"s":"M4","x":80.55,"y":553},{"s":"M4","x":80.9,"y":540},{"s":"M4","x":81.36,"y":503},{"s":"M4","x":81.96,"y":404},{"s":"M4","x":82.5,"y":380},{"s":"M4","x":82.97,"y":370},{"s":"M4","x":83.37,"y":365},{"s":"M4","x":83.8,"y":380},{"s":"M4","x":84.18,"y":404},{"s":"M4","x":84.7,"y":430},{"s":"M4","x":85.19,"y":454},{"s":"M4","x":85.7,"y":460},{"s":"M4","x":86.19,"y":454},{"s":"M4","x":86.5,"y":570},{"s":"M4","x":86.7,"y":800},{"s":"M4","x":86.9,"y":1150},{"s":"M4","x":87.05,"y":1300},{"s":"M4","x":87.2,"y":1375},{"s":"M4","x":87.35,"y":1150},{"s":"M4","x":87.55,"y":800},{"s":"M4","x":87.8,"y":600},{"s":"M4","x":88.1,"y":503},{"s":"M4","x":88.4,"y":520},{"s":"M4","x":88.7,"y":537},{"s":"M4","x":89,"y":500},{"s":"M4","x":89.2,"y":470},{"s":"M4","x":89.6,"y":420},{"s":"M4","x":90,"y":370}
]},
"mark": {"type": "line", "clip": true, "strokeWidth": 2},
"encoding": {
  "x": {"field": "x", "type": "quantitative",
    "scale": {"domain": [10, 90], "nice": false, "zero": false},
    "axis": {
      "values": [10,15,20,25,30,35,40,45,50,55,60,65,70,75,80,85,90],
      "labelExpr": "datum.value % 10 === 0 ? datum.label : ''",
      "labelOverlap": false, "labelFlush": false, "grid": false,
      "domainColor": "black", "domainWidth": 3,
      "tickColor": "black", "tickWidth": 3,
      "tickSize": {"condition": {"test": "datum.value % 10 === 0", "value": -17}, "value": -8},
      "labelPadding": 72.6, "labelBaseline": "alphabetic",
      "labelFontSize": 38, "labelColor": "black", "labelFont": "Liberation Sans",
      "title": "Angulo de difraccion (2θ)",
      "titleFontSize": 48, "titleFontWeight": "normal", "titleColor": "black", "titleFont": "Liberation Sans",
      "titleBaseline": "alphabetic", "titleX": 662, "titleY": 134
    }
  },
  "y": {"field": "y", "type": "quantitative",
    "scale": {"domain": [0, 5000], "nice": false},
    "axis": {
      "values": [0,500,1000,1500,2000,2500,3000,3500,4000,4500,5000],
      "labelExpr": "datum.value % 1000 === 0 ? datum.label : ''",
      "format": "d",
      "labelOverlap": false, "labelFlush": false, "grid": false,
      "domainColor": "black", "domainWidth": 3,
      "tickColor": "black", "tickWidth": 3,
      "tickSize": {"condition": {"test": "datum.value % 1000 === 0", "value": -18}, "value": -9},
      "labelPadding": 42.7, "labelBaseline": "middle",
      "labelFontSize": 38, "labelColor": "black", "labelFont": "Liberation Sans",
      "title": "Intensidad (u.a.)",
      "titleFontSize": 48, "titleFontWeight": "normal", "titleColor": "black", "titleFont": "Liberation Sans",
      "titleAngle": -90, "titleBaseline": "alphabetic", "titleAlign": "center", "titleX": -185, "titleY": 502
    }
  },
  "color": {"field": "s", "type": "nominal",
    "scale": {"domain": ["M0","M1","M2","M4"], "range": ["#000000","#FF0000","#00FF00","#0000FF"]},
    "legend": {
      "orient": "none", "legendX": 722, "legendY": 23, "title": null,
      "symbolType": "stroke", "symbolSize": 11236, "symbolStrokeWidth": 1.5,
      "labelFontSize": 45, "labelColor": "black", "labelFont": "Liberation Sans",
      "labelOffset": 14, "clipHeight": 45, "rowPadding": 15.7, "padding": 0
    }
  }
}
}
